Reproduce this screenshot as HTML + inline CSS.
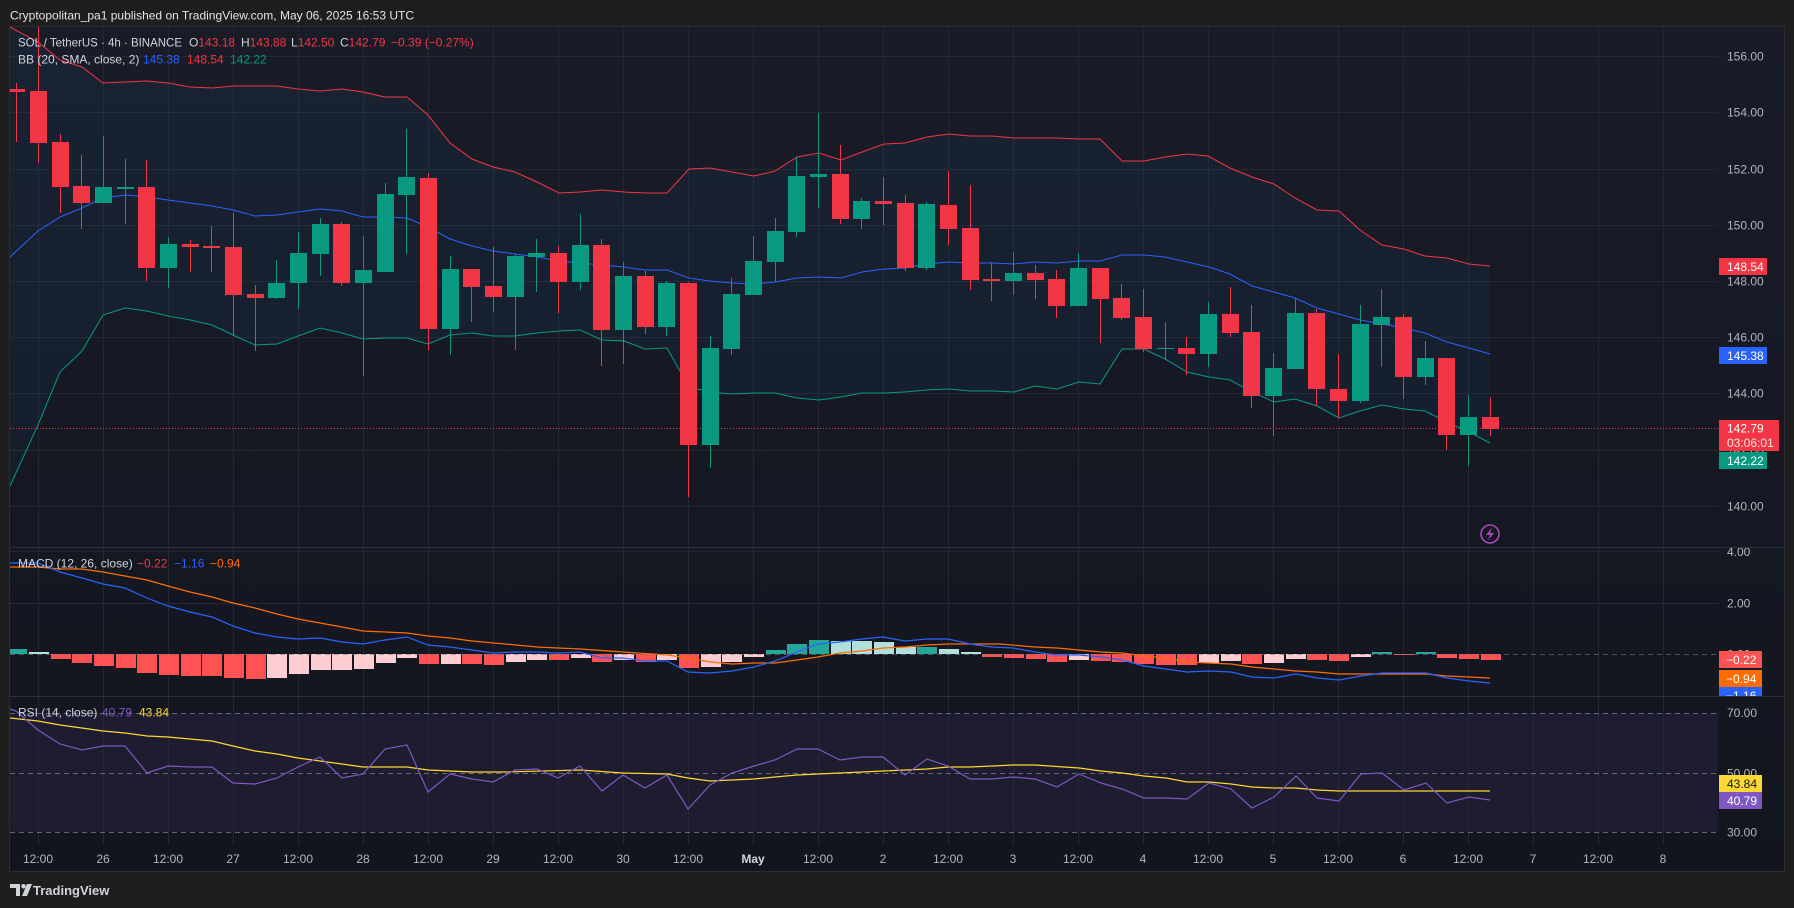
<!DOCTYPE html>
<html>
<head>
<meta charset="utf-8">
<style>
html,body{margin:0;padding:0;background:#1e1e1e;}
body{width:1794px;height:908px;overflow:hidden;}
svg{display:block;font-family:"Liberation Sans",Arial,sans-serif;}
</style>
</head>
<body>
<svg width="1794" height="908" viewBox="0 0 1794 908" xmlns="http://www.w3.org/2000/svg">
<defs>
<linearGradient id="bg" x1="0" y1="26" x2="0" y2="872" gradientUnits="userSpaceOnUse">
<stop offset="0" stop-color="#191c27"/>
<stop offset="1" stop-color="#12151e"/>
</linearGradient>
<clipPath id="cMain"><rect x="10" y="27" width="1708" height="520"/></clipPath>
<clipPath id="cMacd"><rect x="10" y="548" width="1708" height="148"/></clipPath>
<clipPath id="cRsi"><rect x="10" y="697" width="1708" height="148"/></clipPath>
<clipPath id="cMacdAxis"><rect x="1718" y="548" width="66" height="148"/></clipPath>
</defs>

<rect x="0" y="0" width="1794" height="908" fill="#1e1e1e"/>
<text x="10" y="19.5" font-size="12" fill="#e0e3eb">Cryptopolitan_pa1 published on TradingView.com, May 06, 2025 16:53 UTC</text>

<!-- chart frame -->
<rect x="9.5" y="26.5" width="1775" height="845" fill="url(#bg)" stroke="#2a2d36" stroke-width="1"/>

<!-- RSI background band -->
<rect x="10" y="713" width="1708" height="119" fill="rgba(126,87,194,0.1)"/>

<!-- grid -->
<g stroke="#242833" stroke-width="1">
<path d="M38.5 27V845M103.5 27V845M168.5 27V845M233.5 27V845M298.5 27V845M363.5 27V845M428.5 27V845M493.5 27V845M558.5 27V845M623.5 27V845M688.5 27V845M753.5 27V845M818.5 27V845M883.5 27V845M948.5 27V845M1013.5 27V845M1078.5 27V845M1143.5 27V845M1208.5 27V845M1273.5 27V845M1338.5 27V845M1403.5 27V845M1468.5 27V845M1533.5 27V845M1598.5 27V845M1663.5 27V845"/>
<path d="M10 56.5H1718M10 112.5H1718M10 169.5H1718M10 225.5H1718M10 281.5H1718M10 337.5H1718M10 393.5H1718M10 450.5H1718M10 506.5H1718M10 551.5H1718M10 603.5H1718"/>
</g>

<!-- pane separators -->
<path d="M10 547.5H1784M10 696.5H1784" stroke="#2e313b" stroke-width="1"/>

<!-- MAIN PANE -->
<g clip-path="url(#cMain)">
<polygon fill="rgba(33,150,243,0.05)" points="10,27 38,42 60,60 82,67 103,83 125,82 147,81 168,83 190,87 212,88 233,86 255,86 277,86 298,89 320,91 342,89 363,92 385,97 407,97 428,115 450,143 472,159 493,167 515,172 537,182 559,193 580,192 602,190 624,192 645,193 667,193 689,169 710,168 732,172 754,176 775,171 797,157 819,153 841,160 862,152 884,144 905,143 927,137 949,134 970,136 992,136 1014,138 1035,138 1057,138 1079,139 1100,139 1122,161 1144,161 1165,157 1187,154 1208,156 1230,168 1252,177 1274,184 1295,198 1317,210 1339,211 1360,230 1382,245 1404,249 1425,256 1447,258 1469,264 1490,266 1490,443 1469,432 1447,422 1425,411 1404,409 1382,405 1360,411 1339,418 1317,406 1295,399 1274,402 1252,392 1230,380 1209,377 1187,372 1165,359 1144,349 1122,349 1100,384 1079,382 1057,389 1035,386 1014,392 992,391 970,391 949,389 927,390 905,392 884,393 862,393 841,397 819,400 797,398 775,393 754,393 732,394 710,392 689,387 667,348 645,349 624,341 602,340 580,330 559,331 537,333 515,336 493,336 472,333 450,335 428,344 407,338 385,338 363,339 342,333 320,328 298,336 277,344 255,345 233,335 212,325 190,320 168,316 147,311 125,308 103,315 82,351 60,372 38,425 10,486"/>
<polyline fill="none" stroke="#f23645" stroke-width="1" points="10,27 38,42 60,60 82,67 103,83 125,82 147,81 168,83 190,87 212,88 233,86 255,86 277,86 298,89 320,91 342,89 363,92 385,97 407,97 428,115 450,143 472,159 493,167 515,172 537,182 559,193 580,192 602,190 624,192 645,193 667,193 689,169 710,168 732,172 754,176 775,171 797,157 819,153 841,160 862,152 884,144 905,143 927,137 949,134 970,136 992,136 1014,138 1035,138 1057,138 1079,139 1100,139 1122,161 1144,161 1165,157 1187,154 1208,156 1230,168 1252,177 1274,184 1295,198 1317,210 1339,211 1360,230 1382,245 1404,249 1425,256 1447,258 1469,264 1490,266"/>
<polyline fill="none" stroke="#2962ff" stroke-width="1" points="10,257 38,231 60,217 82,208 103,198 125,195 147,197 168,200 190,203 212,206 233,210 255,216 277,215 298,212 320,209 342,211 363,217 385,217 407,218 428,227 450,239 472,246 493,251 515,254 537,257 559,261 580,263 602,265 624,267 645,270 667,270 689,278 710,281 732,283 754,284 775,282 797,278 819,277 841,278 862,272 884,269 905,268 927,264 949,262 970,263 992,263 1014,264 1035,262 1057,263 1079,261 1100,261 1122,255 1144,255 1165,257 1187,262 1209,267 1230,274 1252,286 1274,292 1295,298 1317,308 1339,314 1360,320 1382,324 1404,328 1425,333 1447,342 1469,348 1490,354"/>
<polyline fill="none" stroke="#089981" stroke-width="1" points="10,486 38,425 60,372 82,351 103,315 125,308 147,311 168,316 190,320 212,325 233,335 255,345 277,344 298,336 320,328 342,333 363,339 385,338 407,338 428,344 450,335 472,333 493,336 515,336 537,333 559,331 580,330 602,340 624,341 645,349 667,348 689,387 710,392 732,394 754,393 775,393 797,398 819,400 841,397 862,393 884,393 905,392 927,390 949,389 970,391 992,391 1014,392 1035,386 1057,389 1079,382 1100,384 1122,349 1144,349 1165,359 1187,372 1209,377 1230,380 1252,392 1274,402 1295,399 1317,406 1339,418 1360,411 1382,405 1404,409 1425,411 1447,422 1469,432 1490,443"/>

<path d="M10 428.5H1718" stroke="#f23645" stroke-width="1" stroke-dasharray="1 2"/>

<!-- red candles -->
<path fill="#f23645" d="M16 83h1v59h-1zM8 89h17v3h-17z
M38 27h1v136h-1zM30 91h17v52h-17z
M60 134h1v79h-1zM52 142h17v45h-17z
M81 155h1v74h-1zM73 186h17v17h-17z
M146 160h1v121h-1zM138 187h17v81h-17z
M190 240h1v32h-1zM182 244h17v3h-17z
M211 226h1v46h-1zM203 246h17v2h-17z
M233 213h1v122h-1zM225 247h17v48h-17z
M255 285h1v66h-1zM247 294h17v4h-17z
M341 222h1v64h-1zM333 224h17v59h-17z
M428 173h1v177h-1zM420 178h17v151h-17z
M471 269h1v53h-1zM463 269h17v18h-17z
M493 247h1v65h-1zM485 286h17v11h-17z
M558 246h1v67h-1zM550 253h17v29h-17z
M601 239h1v127h-1zM593 245h17v85h-17z
M645 271h1v63h-1zM637 276h17v51h-17z
M688 282h1v215h-1zM680 283h17v162h-17z
M840 145h1v79h-1zM832 174h17v45h-17z
M883 177h1v48h-1zM875 201h17v3h-17z
M905 195h1v76h-1zM897 203h17v65h-17z
M948 171h1v74h-1zM940 205h17v24h-17z
M970 185h1v105h-1zM962 228h17v52h-17z
M991 263h1v38h-1zM983 279h17v2h-17z
M1035 265h1v34h-1zM1027 273h17v7h-17z
M1056 270h1v48h-1zM1048 279h17v27h-17z
M1100 268h1v75h-1zM1092 268h17v31h-17z
M1121 284h1v36h-1zM1113 298h17v20h-17z
M1143 289h1v63h-1zM1135 317h17v32h-17z
M1186 337h1v38h-1zM1178 348h17v6h-17z
M1230 287h1v50h-1zM1222 314h17v19h-17z
M1251 305h1v103h-1zM1243 332h17v64h-17z
M1316 309h1v97h-1zM1308 313h17v76h-17z
M1338 354h1v64h-1zM1330 389h17v12h-17z
M1403 314h1v85h-1zM1395 317h17v60h-17z
M1446 358h1v92h-1zM1438 358h17v77h-17z
M1490 397h1v39h-1zM1482 417h17v12h-17z"/>
<!-- green candles -->
<path fill="#089981" d="M103 136h1v67h-1zM95 187h17v16h-17z
M125 159h1v65h-1zM117 187h17v2h-17z
M168 237h1v51h-1zM160 244h17v24h-17z
M276 260h1v39h-1zM268 283h17v15h-17z
M298 232h1v77h-1zM290 253h17v30h-17z
M320 218h1v58h-1zM312 224h17v30h-17z
M363 236h1v140h-1zM355 270h17v13h-17z
M385 183h1v89h-1zM377 194h17v78h-17z
M406 129h1v125h-1zM398 177h17v18h-17z
M450 256h1v99h-1zM442 269h17v60h-17z
M515 254h1v96h-1zM507 256h17v41h-17z
M536 239h1v53h-1zM528 253h17v4h-17z
M580 214h1v76h-1zM572 245h17v37h-17z
M623 262h1v102h-1zM615 276h17v54h-17z
M666 281h1v55h-1zM658 283h17v44h-17z
M710 336h1v132h-1zM702 348h17v97h-17z
M731 278h1v77h-1zM723 294h17v55h-17z
M753 236h1v59h-1zM745 261h17v34h-17z
M775 218h1v64h-1zM767 231h17v31h-17z
M796 157h1v80h-1zM788 176h17v56h-17z
M818 113h1v95h-1zM810 174h17v3h-17z
M861 198h1v31h-1zM853 201h17v18h-17z
M926 202h1v68h-1zM918 204h17v64h-17z
M1013 252h1v43h-1zM1005 273h17v8h-17z
M1078 253h1v53h-1zM1070 268h17v38h-17z
M1165 322h1v38h-1zM1157 348h17v1h-17z
M1208 302h1v65h-1zM1200 314h17v40h-17z
M1273 353h1v83h-1zM1265 368h17v28h-17z
M1295 299h1v70h-1zM1287 313h17v56h-17z
M1360 305h1v98h-1zM1352 324h17v77h-17z
M1381 289h1v78h-1zM1373 317h17v8h-17z
M1425 341h1v44h-1zM1417 358h17v19h-17z
M1468 395h1v71h-1zM1460 417h17v18h-17z"/>
</g>

<!-- lightning icon -->
<circle cx="1490" cy="534" r="9" fill="none" stroke="#ab47bc" stroke-width="1.6"/>
<path d="M1492 527.5L1486 535H1490L1488 540.5L1494 533H1490Z" fill="#ab47bc"/>

<!-- legend main -->
<text y="46.5" font-size="12" fill="#d1d4dc">
<tspan x="18" textLength="164" lengthAdjust="spacingAndGlyphs">SOL / TetherUS · 4h · BINANCE</tspan>
<tspan x="189">O</tspan><tspan fill="#f23645">143.18</tspan>
<tspan x="241">H</tspan><tspan fill="#f23645">143.88</tspan>
<tspan x="291">L</tspan><tspan fill="#f23645">142.50</tspan>
<tspan x="340">C</tspan><tspan fill="#f23645">142.79</tspan>
<tspan x="391" fill="#f23645">−0.39 (−0.27%)</tspan>
</text>
<text y="63.5" font-size="12" fill="#d1d4dc">
<tspan x="18">BB (20, SMA, close, 2)</tspan>
<tspan x="143" fill="#2962ff">145.38</tspan>
<tspan x="187" fill="#f23645">148.54</tspan>
<tspan x="230" fill="#089981">142.22</tspan>
</text>

<!-- MACD PANE -->
<g clip-path="url(#cMacd)">
<path fill="#26a69a" d="M7 649h20v5h-20zM766 650h20v4h-20zM787 644h20v10h-20zM809 640h20v14h-20zM917 647h20v7h-20zM1372 652h20v2h-20zM1416 652h20v2h-20z"/>
<path fill="#b2dfdb" d="M29 652h20v2h-20zM831 641h20v13h-20zM852 641h20v13h-20zM874 642h20v12h-20zM896 647h20v7h-20zM939 649h20v5h-20zM961 652h20v2h-20z"/>
<path fill="#ff5252" d="M51 654h20v5h-20zM72 654h20v9h-20zM94 654h20v12h-20zM116 654h20v14h-20zM137 654h20v19h-20zM159 654h20v21h-20zM181 654h20v22h-20zM202 654h20v22h-20zM224 654h20v24h-20zM246 654h20v25h-20zM419 654h20v10h-20zM462 654h20v10h-20zM484 654h20v11h-20zM549 654h20v6h-20zM592 654h20v8h-20zM636 654h20v8h-20zM679 654h20v14h-20zM982 654h20v3h-20zM1004 654h20v4h-20zM1026 654h20v5h-20zM1047 654h20v8h-20zM1091 654h20v7h-20zM1112 654h20v8h-20zM1134 654h20v10h-20zM1156 654h20v11h-20zM1177 654h20v11h-20zM1242 654h20v10h-20zM1307 654h20v6h-20zM1329 654h20v7h-20zM1394 654h20v1h-20zM1437 654h20v4h-20zM1459 654h20v5h-20zM1481 654h20v6h-20z"/>
<path fill="#ffcdd2" d="M267 654h20v24h-20zM289 654h20v20h-20zM311 654h20v16h-20zM332 654h20v16h-20zM354 654h20v15h-20zM376 654h20v9h-20zM397 654h20v4h-20zM441 654h20v10h-20zM506 654h20v8h-20zM527 654h20v6h-20zM571 654h20v4h-20zM614 654h20v6h-20zM657 654h20v6h-20zM701 654h20v13h-20zM722 654h20v8h-20zM744 654h20v3h-20zM1069 654h20v6h-20zM1199 654h20v9h-20zM1221 654h20v7h-20zM1264 654h20v9h-20zM1286 654h20v5h-20zM1351 654h20v3h-20z"/>
<path d="M10 654.5H1718" stroke="#787b86" stroke-opacity="0.6" stroke-width="1" stroke-dasharray="5 4"/>
<polyline fill="none" stroke="#ff6d00" stroke-width="1.2" points="10,567 38,567 60,569 82,569 103,572 125,576 147,580 168,586 190,592 212,597 233,603 255,608 277,614 298,619 320,623 342,627 363,631 385,632 407,633 428,636 450,638 472,641 505,644 537,647 580,649 623,652 667,655 688,658 710,662 732,664 754,663 775,663 797,660 818,657 840,653 862,651 883,648 905,647 927,645 948,644 970,644 1000,644 1035,647 1057,648 1079,650 1101,652 1122,653 1144,656 1166,658 1187,662 1209,663 1231,664 1252,667 1274,669 1296,671 1317,672 1339,674 1361,674 1382,674 1404,674 1426,674 1447,676 1469,677 1490,678"/>
<polyline fill="none" stroke="#2962ff" stroke-width="1.2" points="10,563 38,563 60,572 82,578 103,584 125,588 147,598 168,606 190,612 212,617 233,626 255,633 277,637 298,639 320,638 342,642 363,644 385,640 407,637 428,645 450,647 472,650 493,653 515,652 537,652 558,653 580,652 602,658 623,658 645,661 667,661 688,672 710,673 732,671 754,667 775,661 797,652 818,644 840,642 862,639 883,637 905,641 927,639 948,639 970,644 992,647 1013,648 1035,652 1057,655 1079,655 1101,657 1122,660 1144,666 1166,669 1187,672 1209,671 1231,672 1252,677 1274,678 1296,674 1317,678 1339,680 1361,676 1382,673 1404,673 1426,673 1447,678 1469,681 1490,683"/>
</g>
<text y="567.5" font-size="12" fill="#d1d4dc">
<tspan x="18">MACD (12, 26, close)</tspan>
<tspan x="137" fill="#f23645">−0.22</tspan>
<tspan x="174" fill="#2962ff">−1.16</tspan>
<tspan x="210" fill="#ff6d00">−0.94</tspan>
</text>

<!-- RSI PANE -->
<g clip-path="url(#cRsi)">
<path d="M10 713.5H1718M10 773.5H1718M10 832.5H1718" stroke="#787b86" stroke-opacity="0.8" stroke-width="1" stroke-dasharray="5 4"/>
<polyline fill="none" stroke="#fdd835" stroke-width="1.2" points="10,718 38,721 60,725 82,728 103,731 125,733 147,736 168,737 190,739 212,741 233,746 255,751 277,754 298,758 320,761 342,764 363,767 407,767 428,770 472,772 505,772 580,770 623,773 667,774 688,778 710,781 754,779 775,777 797,775 818,774 862,772 883,771 927,769 948,767 970,767 992,766 1013,765 1035,765 1079,768 1101,771 1122,773 1144,776 1166,778 1187,782 1209,782 1231,784 1252,787 1274,788 1296,788 1317,790 1339,791 1490,791"/>
<polyline fill="none" stroke="#7e57c2" stroke-width="1.2" points="10,709 16,711 38,730 60,744 82,750 103,746 125,746 147,773 168,766 190,767 212,767 233,783 255,784 277,778 298,767 320,757 342,778 363,774 385,749 407,745 428,792 450,774 472,779 493,782 515,770 537,769 558,778 580,766 602,791 623,775 645,788 667,775 688,809 710,785 732,773 754,766 775,760 797,749 818,749 840,760 862,757 883,757 905,775 927,759 948,766 970,779 992,779 1013,777 1035,779 1057,787 1079,774 1101,783 1122,789 1144,798 1166,798 1187,799 1209,783 1231,789 1252,808 1274,797 1296,776 1317,798 1339,801 1361,774 1382,773 1404,790 1426,783 1447,803 1469,797 1490,800"/>
</g>
<text y="716.5" font-size="12" fill="#d1d4dc">
<tspan x="18">RSI (14, close)</tspan>
<tspan x="102" fill="#7e57c2">40.79</tspan>
<tspan x="139" fill="#fdd835">43.84</tspan>
</text>

<!-- price axis labels -->
<g font-size="12" fill="#b2b5be">
<text x="1727" y="60.5">156.00</text>
<text x="1727" y="116.5">154.00</text>
<text x="1727" y="173.5">152.00</text>
<text x="1727" y="229.5">150.00</text>
<text x="1727" y="285.5">148.00</text>
<text x="1727" y="341.5">146.00</text>
<text x="1727" y="397.5">144.00</text>
<text x="1727" y="454.5">142.00</text>
<text x="1727" y="510.5">140.00</text>
<g clip-path="url(#cMacdAxis)">
<text x="1727" y="556">4.00</text>
<text x="1727" y="607.5">2.00</text>
<text x="1727" y="658.5">0.00</text>
</g>
<text x="1727" y="717">70.00</text>
<text x="1727" y="777.5">50.00</text>
<text x="1727" y="836.5">30.00</text>
</g>

<!-- price tags -->
<g font-size="12" fill="#ffffff">
<rect x="1719" y="258" width="48" height="17" fill="#f23645"/>
<text x="1727" y="271">148.54</text>
<rect x="1719" y="347" width="48" height="17" fill="#2962ff"/>
<text x="1727" y="360">145.38</text>
<rect x="1719" y="420" width="60" height="31" fill="#f23645"/>
<text x="1727" y="432.5">142.79</text>
<text x="1727" y="447" fill="#ffe3e6">03:06:01</text>
<rect x="1719" y="452" width="48" height="17" fill="#089981"/>
<text x="1727" y="465">142.22</text>
<g clip-path="url(#cMacdAxis)">
<rect x="1719" y="651" width="43" height="17" fill="#ff5252"/>
<text x="1726" y="664">−0.22</text>
<rect x="1719" y="670" width="43" height="17" fill="#ff6d00"/>
<text x="1726" y="683">−0.94</text>
<rect x="1719" y="687" width="43" height="17" fill="#2962ff"/>
<text x="1726" y="700">−1.16</text>
</g>
<rect x="1719" y="775" width="43" height="17" fill="#fdd835"/>
<text x="1727" y="788" fill="#131722">43.84</text>
<rect x="1719" y="792" width="43" height="17" fill="#7e57c2"/>
<text x="1727" y="805">40.79</text>
</g>

<!-- time axis -->
<g font-size="12" fill="#b2b5be" text-anchor="middle">
<text x="38" y="863">12:00</text>
<text x="103" y="863">26</text>
<text x="168" y="863">12:00</text>
<text x="233" y="863">27</text>
<text x="298" y="863">12:00</text>
<text x="363" y="863">28</text>
<text x="428" y="863">12:00</text>
<text x="493" y="863">29</text>
<text x="558" y="863">12:00</text>
<text x="623" y="863">30</text>
<text x="688" y="863">12:00</text>
<text x="753" y="863" font-weight="bold" fill="#d1d4dc">May</text>
<text x="818" y="863">12:00</text>
<text x="883" y="863">2</text>
<text x="948" y="863">12:00</text>
<text x="1013" y="863">3</text>
<text x="1078" y="863">12:00</text>
<text x="1143" y="863">4</text>
<text x="1208" y="863">12:00</text>
<text x="1273" y="863">5</text>
<text x="1338" y="863">12:00</text>
<text x="1403" y="863">6</text>
<text x="1468" y="863">12:00</text>
<text x="1533" y="863">7</text>
<text x="1598" y="863">12:00</text>
<text x="1663" y="863">8</text>
</g>

<!-- footer logo -->
<g fill="#d1d4dc">
<path d="M10 884h10v12h-4v-8h-6z"/>
<circle cx="23.5" cy="886.3" r="2.3"/>
<path d="M27 884h5l-5 12h-5z"/>
<text x="33" y="895" font-size="13" font-weight="bold">TradingView</text>
</g>
</svg>
</body>
</html>
